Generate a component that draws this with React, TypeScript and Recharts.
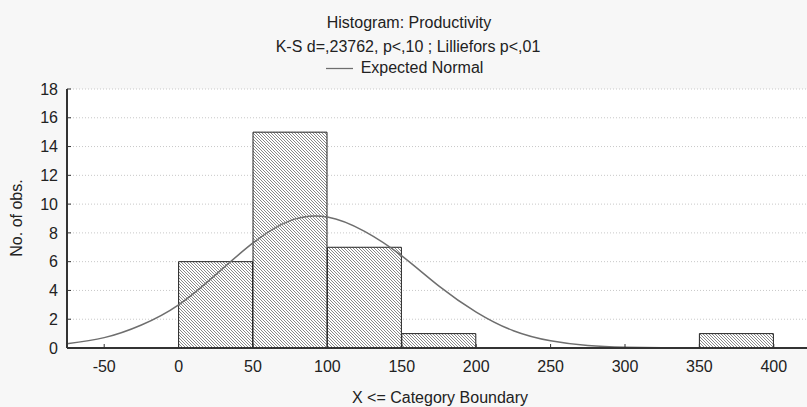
import { ComposedChart, Bar, Line, XAxis, YAxis, CartesianGrid, Legend } from 'recharts';

// histogram bins (lower edge) and counts
const binStart = [0, 50, 100, 150, 200, 250, 300, 350];
const binCount = [6, 15, 7, 1, 0, 0, 0, 1];
const binWidth = 50;

// expected normal curve
const curveX = [-75, -50, -25, 0, 25, 50, 75, 100, 125, 150, 175, 200, 225, 250, 275, 300, 325, 350, 375, 400, 425];
const curveY = [0.3, 0.72, 1.6, 3.0, 5.1, 7.3, 8.85, 9.1, 8.1, 6.4, 4.3, 2.5, 1.2, 0.5, 0.17, 0.05, 0.01, 0, 0, 0, 0];

const xTicks = [-50, 0, 50, 100, 150, 200, 250, 300, 350, 400];
const yTicks = [0, 2, 4, 6, 8, 10, 12, 14, 16, 18];

const bins = binStart.map((s, i) => ({ x: s + binWidth / 2, count: binCount[i] }));
const curve = curveX.map((x, i) => ({ x, y: curveY[i] }));

const FONT = '"Liberation Sans", Arial, sans-serif';
const INK = '#222';
const AXIS = '#333';

const tickStyle = { fill: INK, fontSize: 16, fontFamily: FONT };

const App = () => (
  <div
    style={{
      position: 'fixed',
      left: 0,
      top: 0,
      width: 807,
      height: 407,
      overflow: 'hidden',
      background: '#f7f7f7',
      fontFamily: FONT,
      color: INK,
    }}
  >
    <style>{`.recharts-legend-item line { stroke-width: 1.5px; } .recharts-legend-item .recharts-surface { margin-right: 8px !important; }`}</style>
    <ComposedChart
      width={811}
      height={407}
      data={bins}
      margin={{ top: 89, right: 0, bottom: 0, left: 0 }}
      barCategoryGap={0}
      barGap={0}
    >
      <defs>
        <pattern id="hatch" patternUnits="userSpaceOnUse" width="3" height="3">
          <rect width="3" height="3" fill="#fff" />
          <path d="M-1,-1 L4,4 M-1,2 L1,4 M2,-1 L4,1" stroke="#7a7a7a" strokeWidth="0.9" />
        </pattern>
      </defs>
      <CartesianGrid vertical={false} fill="#fff" stroke="#c8c8c8" strokeDasharray="1 2" />
      <XAxis
        dataKey="x"
        type="number"
        domain={[-75, 425]}
        ticks={xTicks}
        interval={0}
        height={59}
        tickSize={-4}
        tickMargin={17}
        axisLine={{ stroke: AXIS, strokeWidth: 2 }}
        tickLine={{ stroke: AXIS }}
        tick={tickStyle}
      />
      <XAxis
        xAxisId="top"
        orientation="top"
        dataKey="x"
        type="number"
        domain={[-75, 425]}
        ticks={xTicks}
        interval={0}
        height={0}
        tickSize={-4}
        tickFormatter={() => ''}
        axisLine={{ stroke: AXIS, strokeWidth: 2 }}
        tickLine={{ stroke: AXIS }}
      />
      <YAxis
        type="number"
        domain={[0, 18]}
        ticks={yTicks}
        interval={0}
        width={67}
        tickSize={-4}
        tickMargin={13}
        axisLine={{ stroke: AXIS, strokeWidth: 2 }}
        tickLine={{ stroke: AXIS }}
        tick={tickStyle}
      />
      <Legend
        verticalAlign="middle"
        align="center"
        iconSize={27}
        wrapperStyle={{ top: 55, left: 4, fontSize: 16, fontFamily: FONT }}
        formatter={(v) => <span style={{ color: INK }}>{v}</span>}
      />
      <Bar
        dataKey="count"
        fill="url(#hatch)"
        stroke="#222"
        strokeWidth={1}
        legendType="none"
        isAnimationActive={false}
      />
      <Line
        xAxisId="top"
        data={curve}
        dataKey="y"
        name="Expected Normal"
        type="natural"
        stroke="#6e6e6e"
        strokeWidth={1.5}
        dot={false}
        activeDot={false}
        legendType="plainline"
        isAnimationActive={false}
      />
    </ComposedChart>

    <div style={{ position: 'absolute', left: 0, top: 13, width: 818, textAlign: 'center', fontSize: 16, lineHeight: '20px' }}>
      Histogram: Productivity
    </div>
    <div style={{ position: 'absolute', left: 0, top: 37, width: 816, textAlign: 'center', fontSize: 16, lineHeight: '20px' }}>
      K-S d=,23762, p&lt;,10 ; Lilliefors p&lt;,01
    </div>
    <div
      style={{
        position: 'absolute',
        left: 17,
        top: 218,
        transform: 'translate(-50%, -50%) rotate(-90deg)',
        whiteSpace: 'nowrap',
        fontSize: 16,
        lineHeight: '20px',
      }}
    >
      No. of obs.
    </div>
    <div style={{ position: 'absolute', left: 0, top: 388, width: 880, textAlign: 'center', fontSize: 16, lineHeight: '20px' }}>
      X &lt;= Category Boundary
    </div>
  </div>
);

export default App;
